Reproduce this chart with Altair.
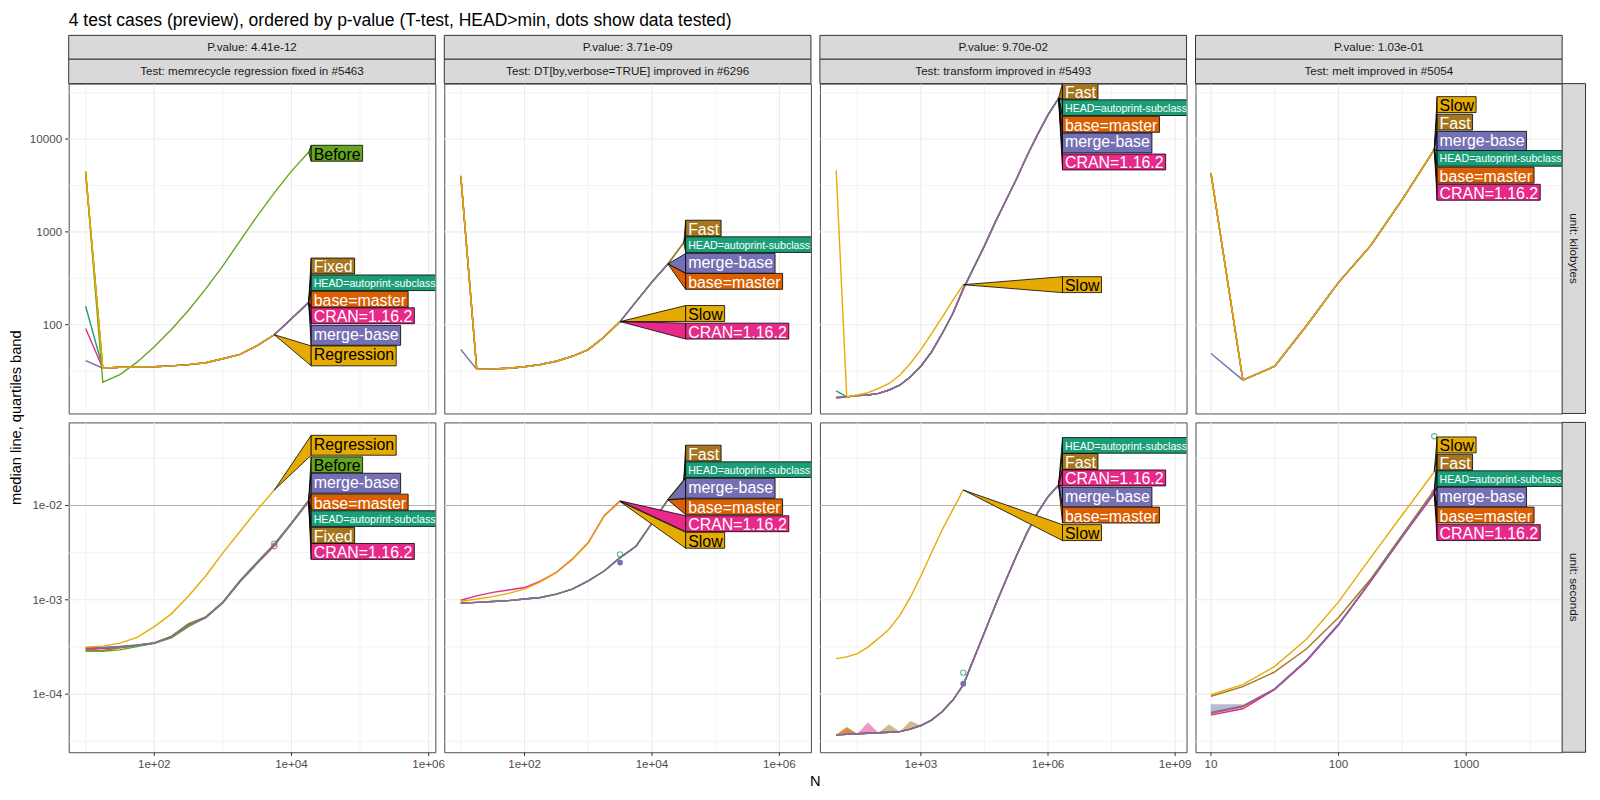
import altair as alt
import pandas as pd

# ---------------------------------------------------------------- data
N_GRID = [10, 17.78, 31.62, 56.23, 100, 177.8, 316.2, 562.3, 1000, 1778, 3162, 5623,
          10000, 17783, 31623, 56234, 100000, 177828, 316228, 562341, 1000000, 1778279]

SERIES_ORDER = ["HEAD=autoprint-subclass", "base=master", "CRAN=1.16.2", "Fixed", "Fast",
                "Before", "merge-base", "Regression", "Slow"]
SERIES_COLORS = ["#1B9E77", "#D95F02", "#E7298A", "#A6761D", "#A6761D",
                 "#66A61E", "#7570B3", "#E6AB02", "#E6AB02"]
DARK_TEXT_SERIES = ["Before", "Regression", "Slow"]

TITLE = "4 test cases (preview), ordered by p-value (T-test, HEAD>min, dots show data tested)"
Y_TITLE = "median line, quartiles band"
X_TITLE = "N"
PVALUE_STRIPS = ["P.value: 4.41e-12", "P.value: 3.71e-09", "P.value: 9.70e-02", "P.value: 1.03e-01"]
TEST_STRIPS = ["Test: memrecycle regression fixed in #5463",
               "Test: DT[by,verbose=TRUE] improved in #6296",
               "Test: transform improved in #5493",
               "Test: melt improved in #5054"]
UNIT_STRIPS = {"kb": "unit: kilobytes", "s": "unit: seconds"}

# panel 1 : memrecycle
P1_KB_LOW = [34, 34.8, 35, 35.2, 36, 37.2, 38.9, 43, 48, 59.6, 78, 116, 174]
P1_KB = {
    "HEAD=autoprint-subclass": [158] + P1_KB_LOW,
    "base=master": [4300] + P1_KB_LOW,
    "CRAN=1.16.2": [91] + P1_KB_LOW,
    "Fixed": [4400] + P1_KB_LOW,
    "Before": [4500, 24, 29, 39.5, 58, 89, 143, 243, 430, 800, 1480, 2630, 4510, 7200],
    "merge-base": [41] + P1_KB_LOW,
    "Regression": [4500] + P1_KB_LOW[:11],
}
P1_SEC = {
    "HEAD=autoprint-subclass": [3.05e-4, 3.1e-4, 3.2e-4, 3.32e-4, 3.5e-4, 4.1e-4, 5.45e-4, 6.55e-4, 9.5e-4, 1.6e-3, 2.5e-3, 3.9e-3, 6.55e-3, 0.0113],
    "base=master": [3.0e-4, 3.08e-4, 3.15e-4, 3.28e-4, 3.47e-4, 4.07e-4, 5.4e-4, 6.5e-4, 9.4e-4, 1.58e-3, 2.48e-3, 3.85e-3, 6.5e-3, 0.0112],
    "CRAN=1.16.2": [2.95e-4, 3.05e-4, 3.12e-4, 3.25e-4, 3.45e-4, 4.0e-4, 5.35e-4, 6.45e-4, 9.3e-4, 1.55e-3, 2.42e-3, 3.75e-3, 6.4e-3, 0.011],
    "Fixed": [2.85e-4, 2.9e-4, 3.1e-4, 3.3e-4, 3.5e-4, 4.1e-4, 5.6e-4, 6.6e-4, 9.4e-4, 1.58e-3, 2.5e-3, 3.85e-3, 6.5e-3, 0.0113],
    "Before": [2.85e-4, 2.85e-4, 2.95e-4, 3.2e-4, 3.45e-4, 3.95e-4, 5.2e-4, 6.5e-4, 9.3e-4, 1.56e-3, 2.45e-3, 3.8e-3, 6.4e-3, 0.0111],
    "merge-base": [3.1e-4, 3.12e-4, 3.18e-4, 3.3e-4, 3.48e-4, 4.05e-4, 5.4e-4, 6.5e-4, 9.4e-4, 1.58e-3, 2.48e-3, 3.85e-3, 6.5e-3, 0.0112],
    "Regression": [3.15e-4, 3.23e-4, 3.48e-4, 4.0e-4, 5.2e-4, 7.1e-4, 1.1e-3, 1.79e-3, 3.15e-3, 5.3e-3, 9.0e-3, 0.0146],
}

# panel 2 : DT[by,verbose=TRUE]
P2_KB_LOW = [33, 33.4, 34, 35.2, 37.3, 40.4, 45.7, 54, 73.6, 108]
P2_KB = {
    "HEAD=autoprint-subclass": [4000] + P2_KB_LOW + [177, 288, 451, 768],
    "base=master": [4000] + P2_KB_LOW + [177, 288, 451],
    "CRAN=1.16.2": [4000] + P2_KB_LOW,
    "Fast": [4000] + P2_KB_LOW + [177, 288, 451, 768],
    "merge-base": [54] + P2_KB_LOW + [177, 288, 451],
    "Slow": [4060] + P2_KB_LOW,
}
P2_SEC_LOW = [9.2e-4, 9.4e-4, 9.6e-4, 9.8e-4, 1.02e-3, 1.06e-3, 1.15e-3, 1.3e-3, 1.59e-3, 2.02e-3, 2.8e-3, 3.7e-3, 6.5e-3, 0.0115]
P2_SEC = {
    "HEAD=autoprint-subclass": P2_SEC_LOW + [0.0186],
    "base=master": P2_SEC_LOW,
    "CRAN=1.16.2": [9.9e-4, 1.1e-3, 1.2e-3, 1.27e-3, 1.35e-3, 1.58e-3, 1.96e-3, 2.7e-3, 4.05e-3, 7.8e-3, 0.0112],
    "Fast": P2_SEC_LOW + [0.0186],
    "merge-base": P2_SEC_LOW,
    "Slow": [9.6e-4, 1.02e-3, 1.08e-3, 1.17e-3, 1.3e-3, 1.55e-3, 1.94e-3, 2.68e-3, 4.0e-3, 7.7e-3, 0.011],
}

# panel 3 : transform
P3_KB_LOW = [16.7, 17.2, 17.5, 18.2, 19.8, 22.3, 27.4, 35.7, 50.8, 80, 131, 243, 414, 707,
             1259, 2150, 3670, 6530, 11100, 18200, 27500]
P3_KB = {
    "HEAD=autoprint-subclass": [19.4] + P3_KB_LOW,
    "base=master": [16.5] + P3_KB_LOW,
    "CRAN=1.16.2": [16.5] + P3_KB_LOW,
    "Fast": [16.5] + P3_KB_LOW,
    "merge-base": [16.1] + P3_KB_LOW,
    "Slow": [4580, 16.7, 17.5, 18.5, 20.6, 23.3, 28.6, 38.2, 54, 80, 120, 182, 270],
}
P3_SEC_LOW = [3.7e-5, 3.75e-5, 3.8e-5, 3.85e-5, 3.9e-5, 3.95e-5, 4.0e-5, 4.25e-5, 4.65e-5, 5.3e-5,
              6.5e-5, 8.6e-5, 1.25e-4, 2.38e-4, 4.5e-4, 8.6e-4, 1.59e-3, 2.9e-3, 5.1e-3, 8.3e-3,
              0.0124, 0.0165]
P3_SEC = {
    "HEAD=autoprint-subclass": P3_SEC_LOW,
    "base=master": P3_SEC_LOW,
    "CRAN=1.16.2": P3_SEC_LOW,
    "Fast": P3_SEC_LOW,
    "merge-base": P3_SEC_LOW,
    "Slow": [2.38e-4, 2.48e-4, 2.69e-4, 3.15e-4, 3.9e-4, 4.9e-4, 6.8e-4, 1.06e-3, 1.79e-3, 3.15e-3, 5.5e-3, 9.0e-3, 0.0146],
}

# panel 4 : melt
P4_KB_LOW = [25.3, 35.7, 98, 286, 707, 2240, 7690]
P4_KB = {
    "HEAD=autoprint-subclass": [4300] + P4_KB_LOW,
    "base=master": [4300] + P4_KB_LOW,
    "CRAN=1.16.2": [4300] + P4_KB_LOW,
    "Fast": [4300] + P4_KB_LOW,
    "merge-base": [48.9] + P4_KB_LOW,
    "Slow": [4320] + P4_KB_LOW,
}
P4_SEC = {
    "HEAD=autoprint-subclass": [6.3e-5, 7.4e-5, 1.13e-4, 2.28e-4, 5.5e-4, 1.58e-3, 4.72e-3, 0.0137],
    "base=master": [6.3e-5, 7.4e-5, 1.13e-4, 2.28e-4, 5.5e-4, 1.58e-3, 4.72e-3, 0.0137],
    "CRAN=1.16.2": [6.0e-5, 7.0e-5, 1.12e-4, 2.25e-4, 5.4e-4, 1.55e-3, 4.65e-3, 0.0134],
    "Fast": [9.5e-5, 1.2e-4, 1.72e-4, 3.03e-4, 6.5e-4, 1.65e-3, 4.9e-3, 0.0146],
    "merge-base": [6.4e-5, 7.5e-5, 1.14e-4, 2.3e-4, 5.5e-4, 1.58e-3, 4.75e-3, 0.0138],
    "Slow": [9.9e-5, 1.26e-4, 1.97e-4, 3.85e-4, 9.5e-4, 2.79e-3, 7.98e-3, 0.0228],
}

MEDIANS = [{"kb": P1_KB, "s": P1_SEC}, {"kb": P2_KB, "s": P2_SEC},
           {"kb": P3_KB, "s": P3_SEC}, {"kb": P4_KB, "s": P4_SEC}]

# dots: data tested (seconds row)
TESTED_PANEL = [0, 0, 1, 1, 2, 2, 3, 3]
TESTED_SERIES = ["HEAD=autoprint-subclass", "CRAN=1.16.2", "HEAD=autoprint-subclass", "merge-base",
                 "HEAD=autoprint-subclass", "merge-base", "HEAD=autoprint-subclass", "CRAN=1.16.2"]
TESTED_N = [5623, 5623, 3162, 3162, 10000, 10000, 562.3, 562.3]
TESTED_VALUE = [3.95e-3, 3.7e-3, 3.03e-3, 2.48e-3, 1.69e-4, 1.29e-4, 0.0542, 0.0137]
TESTED_FILLED = [False, False, False, True, False, True, False, False]

# visible quartile bands (seconds row)
BAND_PANEL = [2, 2, 2, 3]
BAND_SERIES = ["Fast", "CRAN=1.16.2", "base=master", "merge-base"]
BAND_Q25 = [P3_SEC_LOW[:9], P3_SEC_LOW[:5], P3_SEC_LOW[:3], [6.0e-5, 7.2e-5]]
BAND_Q75 = [[3.7e-5, 4.5e-5, 3.8e-5, 3.85e-5, 3.9e-5, 4.8e-5, 4.0e-5, 5.2e-5, 4.65e-5],
            [3.7e-5, 3.75e-5, 3.8e-5, 5.0e-5, 3.9e-5],
            [3.7e-5, 4.4e-5, 3.8e-5],
            [7.8e-5, 7.8e-5]]

# direct labels: column position (N) per panel, and label anchors per panel/row
LABEL_X = [19400, 33800, 2.2e6, 592]
LABELS = {
    "kb": [
        [("Before", 7030), ("Fixed", 429), ("HEAD=autoprint-subclass", 282), ("base=master", 188),
         ("CRAN=1.16.2", 125), ("merge-base", 80.7), ("Regression", 48.5)],
        [("Fast", 1096), ("HEAD=autoprint-subclass", 726), ("merge-base", 481), ("base=master", 293),
         ("Slow", 132), ("CRAN=1.16.2", 85.3)],
        [("Fast", 32700), ("HEAD=autoprint-subclass", 21700), ("base=master", 14400), ("merge-base", 9530),
         ("CRAN=1.16.2", 5660), ("Slow", 270)],
        [("Slow", 23500), ("Fast", 15200), ("merge-base", 9930), ("HEAD=autoprint-subclass", 6170),
         ("base=master", 4080), ("CRAN=1.16.2", 2670)],
    ],
    "s": [
        [("Regression", 0.0457), ("Before", 0.027), ("merge-base", 0.0181), ("base=master", 0.01087),
         ("HEAD=autoprint-subclass", 0.00724), ("Fixed", 0.00483), ("CRAN=1.16.2", 0.00326)],
        [("Fast", 0.0359), ("HEAD=autoprint-subclass", 0.0239), ("merge-base", 0.016), ("base=master", 0.00968),
         ("CRAN=1.16.2", 0.00641), ("Slow", 0.00428)],
        [("HEAD=autoprint-subclass", 0.0432), ("Fast", 0.0293), ("CRAN=1.16.2", 0.0196), ("merge-base", 0.01285),
         ("base=master", 0.00792), ("Slow", 0.00516)],
        [("Slow", 0.0439), ("Fast", 0.0288), ("HEAD=autoprint-subclass", 0.0192), ("merge-base", 0.01285),
         ("base=master", 0.00792), ("CRAN=1.16.2", 0.00516)],
    ],
}

# axes
X_LOG_DOMAIN = [(0.753, 6.097), (0.741, 6.495), (0.616, 9.27), (0.879, 3.752)]
Y_LOG_DOMAIN = {"kb": (1.044, 4.597), "s": (-4.616, -1.119)}
X_TICKS = [[1e2, 1e4, 1e6], [1e2, 1e4, 1e6], [1e3, 1e6, 1e9], [10, 100, 1000]]
X_TICK_LABELS = [["1e+02", "1e+04", "1e+06"], ["1e+02", "1e+04", "1e+06"],
                 ["1e+03", "1e+06", "1e+09"], ["10", "100", "1000"]]
X_MINOR = [[1e1, 1e3, 1e5], [1e1, 1e3, 1e5], [31.62, 31623, 31622777], [31.62, 316.2, 3162]]
Y_TICKS = {"kb": [100, 1000, 10000], "s": [1e-4, 1e-3, 1e-2]}
Y_TICK_LABELS = {"kb": ["100", "1000", "10000"], "s": ["1e-04", "1e-03", "1e-02"]}
Y_MINOR = {"kb": [31.62, 316.2, 3162, 31623], "s": [3.162e-5, 3.162e-4, 3.162e-3, 3.162e-2]}
H_LINE = 0.01

# ---------------------------------------------------------------- styling
FONT = "Liberation Sans"
W, H, GAP = 368.5, 331.5, 8.5
TICK, LABPAD = 3.7, 2.9
ARIAL_W = {'A': 667, 'B': 667, 'C': 722, 'D': 722, 'E': 667, 'F': 611, 'H': 722, 'N': 722, 'R': 722,
           'S': 667, 'a': 556, 'b': 556, 'c': 500, 'd': 556, 'e': 556, 'f': 278, 'g': 556, 'i': 222,
           'l': 222, 'm': 833, 'n': 556, 'o': 556, 'p': 556, 'r': 333, 's': 500, 't': 278, 'u': 556,
           'w': 722, 'x': 500, '=': 584, '-': 333, '.': 278, '1': 556, '2': 556, '6': 556}

color_scale = alt.Scale(domain=SERIES_ORDER, range=SERIES_COLORS)


def make_panel(p, rk):
    bottom = rk == "s"
    xs = alt.Scale(type="log", domain=[10 ** X_LOG_DOMAIN[p][0], 10 ** X_LOG_DOMAIN[p][1]], nice=False)
    ys = alt.Scale(type="log", domain=[10 ** Y_LOG_DOMAIN[rk][0], 10 ** Y_LOG_DOMAIN[rk][1]], nice=False)

    def X(f):
        return alt.X(f, type="quantitative", scale=xs, axis=None)

    def Y(f):
        return alt.Y(f, type="quantitative", scale=ys, axis=None, stack=None)

    col = alt.Color("series:N", scale=color_scale, legend=None)
    layers = []

    # grid (minor thin, major thicker)
    layers.append(alt.Chart(pd.DataFrame({"v": X_MINOR[p]})).mark_rule(
        color="#EBEBEB", strokeWidth=0.6).encode(x=X("v")))
    layers.append(alt.Chart(pd.DataFrame({"v": Y_MINOR[rk]})).mark_rule(
        color="#EBEBEB", strokeWidth=0.6).encode(y=Y("v")))
    xt = pd.DataFrame({"v": X_TICKS[p], "lab": X_TICK_LABELS[p]})
    yt = pd.DataFrame({"v": Y_TICKS[rk], "lab": Y_TICK_LABELS[rk]})
    layers.append(alt.Chart(xt).mark_rule(color="#EBEBEB", strokeWidth=1.1).encode(x=X("v")))
    layers.append(alt.Chart(yt).mark_rule(color="#EBEBEB", strokeWidth=1.1).encode(y=Y("v")))
    if bottom:
        layers.append(alt.Chart(pd.DataFrame({"v": [H_LINE]})).mark_rule(
            color="#B3B3B3", strokeWidth=1).encode(y=Y("v")))

    # quartile bands
    brow = []
    for i, bp in enumerate(BAND_PANEL):
        if bp == p and bottom:
            for n, lo, hi in zip(N_GRID, BAND_Q25[i], BAND_Q75[i]):
                brow.append({"id": i, "series": BAND_SERIES[i], "N": n, "lo": lo, "hi": hi})
    if brow:
        layers.append(alt.Chart(pd.DataFrame(brow)).mark_area(opacity=0.5).encode(
            x=X("N"), y=Y("hi"), y2="lo", color=col, detail="id:N"))

    # median lines
    med = MEDIANS[p][rk]
    rows = []
    for s in SERIES_ORDER:
        if s in med:
            for n, v in zip(N_GRID, med[s]):
                rows.append({"series": s, "N": n, "v": v})
    layers.append(alt.Chart(pd.DataFrame(rows)).mark_line(strokeWidth=1.4).encode(
        x=X("N"), y=Y("v"), color=col, detail="series:N"))

    # tested dots
    if bottom:
        pts = [{"series": s, "N": n, "v": v, "filled": f}
               for pp, s, n, v, f in zip(TESTED_PANEL, TESTED_SERIES, TESTED_N, TESTED_VALUE, TESTED_FILLED)
               if pp == p]
        dfp = pd.DataFrame(pts)
        op = dfp[~dfp["filled"]]
        fp = dfp[dfp["filled"]]
        if len(op):
            layers.append(alt.Chart(op).mark_point(filled=False, size=28, strokeWidth=1.1).encode(
                x=X("N"), y=Y("v"), color=col))
        if len(fp):
            layers.append(alt.Chart(fp).mark_point(filled=True, size=34, opacity=1).encode(
                x=X("N"), y=Y("v"), color=col))

    # direct labels
    ppdx = W / (X_LOG_DOMAIN[p][1] - X_LOG_DOMAIN[p][0])
    ppdy = H / (Y_LOG_DOMAIN[rk][1] - Y_LOG_DOMAIN[rk][0])
    lx = LABEL_X[p]
    boxes, tris = [], []
    for i, (s, a) in enumerate(LABELS[rk][p]):
        small = s.startswith("HEAD")
        fs = 10.7 if small else 16
        tw = sum(ARIAL_W.get(c, 556) for c in s) * fs / 1000
        down = 7.7 if small else (12 if any(c in "gpqyj" for c in s) else 8)
        top = a * 10 ** (8 / ppdy)
        bot = a / 10 ** (down / ppdy)
        x2 = lx * 10 ** ((tw + 4.5) / ppdx)
        vals = med[s]
        tipn, tipv = N_GRID[len(vals) - 1], vals[-1]
        boxes.append({"id": i, "series": s, "x1": lx, "x2": x2, "top": top, "bot": bot,
                      "anchor": a, "small": small})
        tris.append({"id": i, "series": s, "N": tipn, "lo": tipv, "hi": tipv})
        tris.append({"id": i, "series": s, "N": lx, "lo": bot, "hi": top})
    dfb = pd.DataFrame(boxes)
    layers.append(alt.Chart(pd.DataFrame(tris)).mark_area(
        stroke="black", strokeWidth=0.8, opacity=1, clip=True).encode(
        x=X("N"), y=Y("hi"), y2="lo", color=col, detail="id:N"))
    layers.append(alt.Chart(dfb).mark_rect(stroke="black", strokeWidth=0.8, opacity=1, clip=True).encode(
        x=X("x1"), x2="x2", y=Y("top"), y2="bot", color=col))
    tcol = alt.condition(alt.FieldOneOfPredicate(field="series", oneOf=DARK_TEXT_SERIES),
                         alt.value("black"), alt.value("white"))
    big = dfb[~dfb["small"]]
    sm = dfb[dfb["small"]]
    layers.append(alt.Chart(big).mark_text(
        align="left", baseline="alphabetic", dx=2.5, dy=6.5, fontSize=16, font=FONT, clip=True).encode(
        x=X("x1"), y=Y("anchor"), text="series:N", color=tcol))
    if len(sm):
        layers.append(alt.Chart(sm).mark_text(
            align="left", baseline="alphabetic", dx=2.5, dy=4, fontSize=10.7, font=FONT, clip=True).encode(
            x=X("x1"), y=Y("anchor"), text="series:N", color=tcol))

    # axis ticks and tick labels (bottom row: x ; first column: y)
    if bottom:
        layers.append(alt.Chart(xt).mark_rule(color="#333333", strokeWidth=1).encode(
            x=X("v"), y=alt.value(H), y2=alt.value(H + TICK)))
        layers.append(alt.Chart(xt).mark_text(
            fontSize=11.7, font=FONT, color="#4D4D4D", baseline="top", align="center").encode(
            x=X("v"), y=alt.value(H + TICK + LABPAD), text="lab:N"))
    if p == 0:
        layers.append(alt.Chart(yt).mark_rule(color="#333333", strokeWidth=1).encode(
            y=Y("v"), x=alt.value(-TICK), x2=alt.value(0)))
        layers.append(alt.Chart(yt).mark_text(
            fontSize=11.7, font=FONT, color="#4D4D4D", baseline="middle", align="right").encode(
            y=Y("v"), x=alt.value(-TICK - LABPAD), text="lab:N"))

    # strips on top
    if not bottom:
        for txt, y0, y1 in ((PVALUE_STRIPS[p], -48.5, -24.5), (TEST_STRIPS[p], -24.5, 0)):
            sd = pd.DataFrame({"t": [txt]})
            layers.append(alt.Chart(sd).mark_rect(fill="#D9D9D9", stroke="#333333", strokeWidth=1).encode(
                x=alt.value(0), x2=alt.value(W), y=alt.value(y0), y2=alt.value(y1)))
            layers.append(alt.Chart(sd).mark_text(
                fontSize=11.7, font=FONT, color="#1A1A1A", baseline="middle", align="center").encode(
                x=alt.value(W / 2), y=alt.value((y0 + y1) / 2), text="t:N"))
    # strip on the right
    if p == 3:
        sd = pd.DataFrame({"t": [UNIT_STRIPS[rk]]})
        layers.append(alt.Chart(sd).mark_rect(fill="#D9D9D9", stroke="#333333", strokeWidth=1).encode(
            x=alt.value(W), x2=alt.value(W + 23.5), y=alt.value(0), y2=alt.value(H)))
        layers.append(alt.Chart(sd).mark_text(
            fontSize=11.7, font=FONT, color="#1A1A1A", baseline="middle", align="center", angle=90).encode(
            x=alt.value(W + 11.75), y=alt.value(H / 2), text="t:N"))
    # titles
    if p == 0 and not bottom:
        sd = pd.DataFrame({"t": [TITLE]})
        layers.append(alt.Chart(sd).mark_text(
            fontSize=17.6, font=FONT, color="black", baseline="alphabetic", align="left").encode(
            x=alt.value(0), y=alt.value(-57.5), text="t:N"))
        sd = pd.DataFrame({"t": [Y_TITLE]})
        layers.append(alt.Chart(sd).mark_text(
            fontSize=14.7, font=FONT, color="black", baseline="middle", align="center", angle=270).encode(
            x=alt.value(-51.5), y=alt.value((2 * H + GAP) / 2), text="t:N"))
    if p == 1 and bottom:
        sd = pd.DataFrame({"t": [X_TITLE]})
        layers.append(alt.Chart(sd).mark_text(
            fontSize=14.7, font=FONT, color="black", baseline="alphabetic", align="center").encode(
            x=alt.value((4 * W + 3 * GAP) / 2 - (W + GAP)), y=alt.value(H + 33.5), text="t:N"))

    return alt.layer(*layers).properties(width=W, height=H)


charts = [make_panel(p, rk) for rk in ("kb", "s") for p in range(4)]
chart = alt.concat(*charts, columns=4, spacing=GAP, bounds="flush").properties(
    autosize=alt.AutoSizeParams(type="none"),
    padding={"left": 61, "top": 74, "right": 1531, "bottom": 720},
).configure(font=FONT, background="white").configure_view(stroke="#4D4D4D", strokeWidth=1)

chart.save("out.html", embed_options={"renderer": "svg", "actions": False})
